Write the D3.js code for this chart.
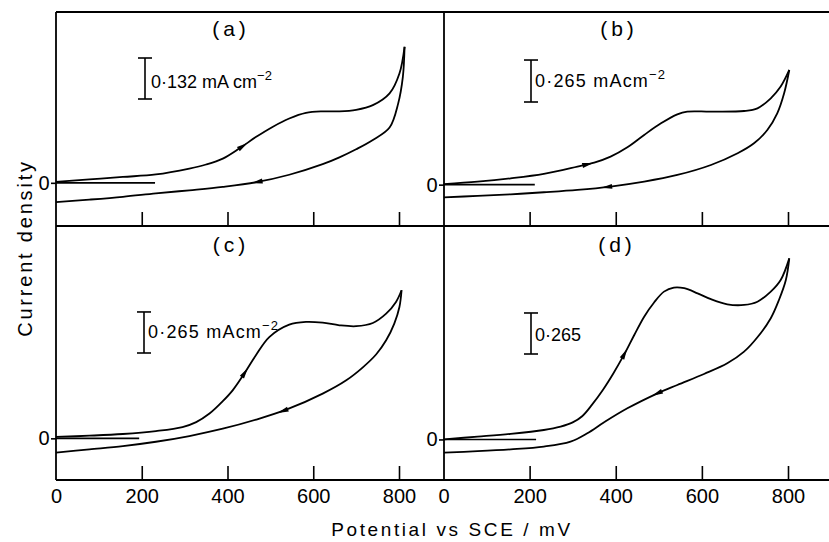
<!DOCTYPE html>
<html>
<head>
<meta charset="utf-8">
<script src="https://cdn.jsdelivr.net/npm/d3@7"></script>
<style>
  html, body { margin: 0; padding: 0; background: #fff; }
  svg { display: block; font-family: "Liberation Sans", Arial, sans-serif; }
</style>
</head>
<body>
<svg id="graph" width="829" height="542"></svg>
<script>
// [potential (mV), current density (mA cm^-2)], forward sweep then reverse sweep
const aForward = [[0, 0.003], [78, 0.011], [156, 0.019], [233, 0.027], [311, 0.046], [350, 0.059], [389, 0.078],
  [428, 0.111], [467, 0.148], [505, 0.180], [544, 0.207], [583, 0.225], [622, 0.230], [661, 0.230], [700, 0.235],
  [739, 0.250], [778, 0.288], [801, 0.352], [813, 0.438]];
const aReverse = [[813, 0.438], [809, 0.341], [798, 0.255], [778, 0.178], [739, 0.138], [700, 0.108], [661, 0.082],
  [622, 0.060], [544, 0.026], [467, 0.002], [389, -0.013], [311, -0.024], [233, -0.034], [156, -0.045], [78, -0.054],
  [0, -0.062]];

const bForward = [[1, 0.004], [79, 0.019], [156, 0.040], [233, 0.068], [311, 0.114], [350, 0.139], [388, 0.177],
  [427, 0.236], [466, 0.314], [505, 0.387], [543, 0.444], [566, 0.461], [621, 0.461], [698, 0.465], [729, 0.482],
  [760, 0.545], [783, 0.619], [803, 0.724]];
const bReverse = [[803, 0.724], [791, 0.577], [775, 0.450], [752, 0.345], [721, 0.261], [683, 0.198], [621, 0.124],
  [543, 0.061], [466, 0.019], [388, -0.012], [311, -0.033], [233, -0.048], [156, -0.061], [79, -0.071], [1, -0.080]];

const cForward = [[0, 0.009], [78, 0.017], [156, 0.028], [233, 0.047], [295, 0.073], [327, 0.105], [358, 0.160],
  [389, 0.240], [412, 0.310], [439, 0.418], [467, 0.540], [498, 0.655], [544, 0.734], [583, 0.752], [622, 0.747],
  [661, 0.730], [700, 0.724], [739, 0.745], [770, 0.805], [793, 0.881], [806, 0.956]];
const cReverse = [[806, 0.956], [801, 0.848], [789, 0.741], [770, 0.633], [747, 0.543], [715, 0.457], [677, 0.375],
  [622, 0.289], [537, 0.185], [467, 0.121], [389, 0.062], [311, 0.015], [233, -0.022], [156, -0.050], [78, -0.071],
  [0, -0.092]];

const dForward = [[1, 0.001], [79, 0.018], [156, 0.036], [233, 0.061], [272, 0.083], [300, 0.110], [322, 0.150],
  [345, 0.225], [370, 0.320], [394, 0.425], [419, 0.546], [443, 0.675], [466, 0.793], [489, 0.885], [512, 0.955],
  [535, 0.981], [559, 0.977], [590, 0.944], [621, 0.906], [659, 0.873], [698, 0.869], [729, 0.890], [760, 0.955],
  [783, 1.030], [803, 1.170]];
const dReverse = [[803, 1.170], [795, 1.030], [779, 0.901], [760, 0.783], [729, 0.660], [698, 0.567], [659, 0.492],
  [605, 0.423], [543, 0.352], [497, 0.298], [427, 0.201], [373, 0.111], [334, 0.040], [295, -0.014], [233, -0.046],
  [156, -0.064], [79, -0.076], [1, -0.085]];

const xTicks = [0, 200, 400, 600, 800];
const panelNames = ["(a)", "(b)", "(c)", "(d)"];
const barValues = [0.132, 0.265, 0.265, 0.265];
const barLabels = ["0·132 mA cm", "0·265 mAcm", "0·265 mAcm", "0·265"];
const barPowers = ["−2", "−2", "−2", ""];
const zeroLineEnds = [231, 212, 194, 215];   // mV where the 0 reference line stops
const arrowsAt = [[435, 470], [334, 380], [440, 530], [420, 497]];   // mV on forward / reverse sweep

const graph = d3.select("#graph");

const panels = [
  { fwd: aForward, rev: aReverse, x0: 56, x800: 399, top: 12, bottom: 226, yDomain: [-0.139, 0.550],
    barX: 145, barBottom: 99, labelX: 151, labelY: 88, spacing: 0, nameX: 231, nameY: 36 },
  { fwd: bForward, rev: bReverse, x0: 443.5, x800: 788, top: 12, bottom: 226, yDomain: [-0.261, 1.090],
    barX: 531, barBottom: 102, labelX: 535, labelY: 87, spacing: 1.2, nameX: 619, nameY: 36 },
  { fwd: cForward, rev: cReverse, x0: 56, x800: 399, top: 226, bottom: 480, yDomain: [-0.269, 1.371],
    barX: 144, barBottom: 353, labelX: 148, labelY: 338, spacing: 1.2, nameX: 231, nameY: 252 },
  { fwd: dForward, rev: dReverse, x0: 443.5, x800: 788, top: 226, bottom: 480, yDomain: [-0.262, 1.379],
    barX: 531, barBottom: 354, labelX: 535, labelY: 341, spacing: 0, nameX: 617, nameY: 252 }
];

// frame
const frame = graph.append("g").attr("stroke", "#000").attr("stroke-width", 1.8);
[[56, 12, 829, 12], [56, 226, 829, 226], [56, 480, 829, 480], [56, 12, 56, 480], [444, 12, 444, 480]]
  .forEach(([x1, y1, x2, y2]) => {
    frame.append("line").attr("x1", x1).attr("y1", y1).attr("x2", x2).attr("y2", y2);
  });

function placeArrow(g, path, x, target) {
  const node = path.node();
  const total = node.getTotalLength();
  const rising = node.getPointAtLength(total).x > node.getPointAtLength(0).x;
  let lo = 0, hi = total;
  for (let k = 0; k < 40; k++) {
    const mid = (lo + hi) / 2;
    const px = node.getPointAtLength(mid).x;
    if ((px < x(target)) === rising) lo = mid; else hi = mid;
  }
  const at = (lo + hi) / 2;
  const a = node.getPointAtLength(Math.max(0, at - 2));
  const b = node.getPointAtLength(Math.min(total, at + 2));
  const p = node.getPointAtLength(at);
  const angle = Math.atan2(b.y - a.y, b.x - a.x) * 180 / Math.PI;
  g.append("path")
    .attr("d", "M6,0L-5,-2.5L-5,2.5Z")
    .attr("fill", "#000")
    .attr("transform", `translate(${p.x},${p.y}) rotate(${angle})`);
}

panels.forEach((p, i) => {
  const x = d3.scaleLinear().domain([0, 800]).range([p.x0, p.x800]);
  const y = d3.scaleLinear().domain(p.yDomain).range([p.bottom, p.top]);
  const g = graph.append("g");

  // ticks pointing up from the panel floor
  g.append("g")
    .attr("transform", `translate(0,${p.bottom})`)
    .call(d3.axisBottom(x).tickValues(xTicks.slice(1)).tickSize(-14).tickFormat(""))
    .call(s => s.select(".domain").remove())
    .call(s => s.selectAll("line").attr("stroke-width", 1.6));

  if (p.bottom === 480) {
    g.append("g")
      .attr("transform", `translate(0,${p.bottom})`)
      .call(d3.axisBottom(x).tickValues(xTicks).tickSize(0).tickPadding(9))
      .call(s => s.select(".domain").remove())
      .call(s => s.selectAll("text").attr("font-size", 20).attr("font-family", "Liberation Sans").attr("fill", "#000"));
  }

  // zero level
  g.append("g")
    .attr("transform", `translate(${p.x0 < 100 ? 56 : 444},0)`)
    .call(d3.axisLeft(y).tickValues([0]).tickSize(5).tickPadding(1.5).tickFormat(d3.format("d")))
    .call(s => s.select(".domain").remove())
    .call(s => s.selectAll("line").attr("stroke-width", 1.6))
    .call(s => s.selectAll("text").attr("font-size", 20).attr("font-family", "Liberation Sans").attr("fill", "#000"));

  g.append("line")
    .attr("x1", x(0)).attr("x2", x(zeroLineEnds[i]))
    .attr("y1", y(0)).attr("y2", y(0))
    .attr("stroke", "#000").attr("stroke-width", 1.6);

  // voltammogram
  const line = d3.line().x(d => x(d[0])).y(d => y(d[1])).curve(d3.curveCatmullRom.alpha(0.5));
  const fwdPath = g.append("path").datum(p.fwd).attr("d", line)
    .attr("fill", "none").attr("stroke", "#000").attr("stroke-width", 1.8);
  const revPath = g.append("path").datum(p.rev).attr("d", line)
    .attr("fill", "none").attr("stroke", "#000").attr("stroke-width", 1.8);
  placeArrow(g, fwdPath, x, arrowsAt[i][0]);
  placeArrow(g, revPath, x, arrowsAt[i][1]);

  // current scale bar
  const barTop = y(y.invert(p.barBottom) + barValues[i]);
  const bar = g.append("g").attr("stroke", "#000").attr("stroke-width", 1.6);
  bar.append("line").attr("x1", p.barX).attr("x2", p.barX).attr("y1", barTop).attr("y2", p.barBottom);
  bar.append("line").attr("x1", p.barX - 7).attr("x2", p.barX + 7).attr("y1", barTop).attr("y2", barTop);
  bar.append("line").attr("x1", p.barX - 7).attr("x2", p.barX + 7).attr("y1", p.barBottom).attr("y2", p.barBottom);

  const label = g.append("text")
    .attr("x", p.labelX).attr("y", p.labelY)
    .attr("font-size", 18).attr("letter-spacing", p.spacing)
    .text(barLabels[i]);
  if (barPowers[i]) {
    label.append("tspan").attr("dy", -8).attr("font-size", 13).text(barPowers[i]);
  }

  g.append("text")
    .attr("x", p.nameX).attr("y", p.nameY)
    .attr("text-anchor", "middle").attr("font-size", 21).attr("letter-spacing", 4)
    .text(panelNames[i]);
});

graph.append("text")
  .attr("transform", "translate(32,248) rotate(-90)")
  .attr("text-anchor", "middle").attr("font-size", 20).attr("letter-spacing", 2.8)
  .text("Current density");

graph.append("text")
  .attr("x", 452).attr("y", 536)
  .attr("text-anchor", "middle").attr("font-size", 19).attr("letter-spacing", 2.6)
  .text("Potential vs SCE / mV");
</script>
</body>
</html>
